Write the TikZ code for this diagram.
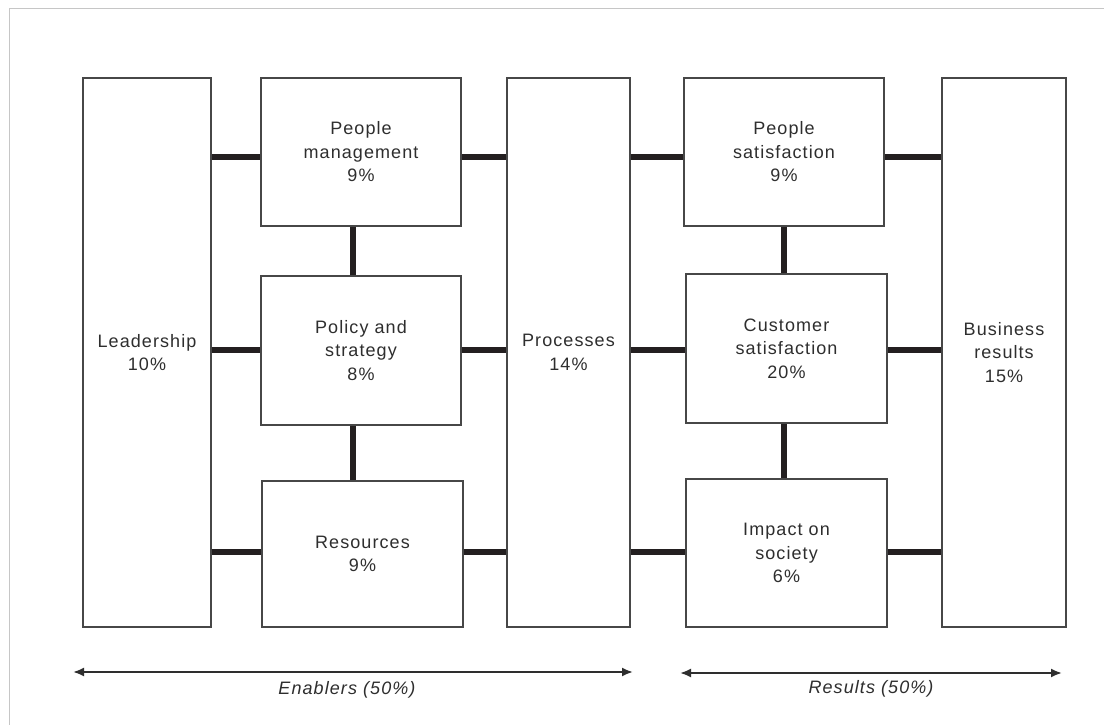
\documentclass[tikz,border=0pt]{standalone}
\usepackage{fontspec}
\setmainfont{Liberation Sans}[LetterSpace=6]
\usetikzlibrary{arrows.meta}
\definecolor{barc}{HTML}{231F20}
\definecolor{edgec}{HTML}{474747}
\definecolor{txtc}{HTML}{2E2E2E}
\definecolor{framec}{HTML}{C6C6C6}
\begin{document}
\begin{tikzpicture}[x=1pt,y=-1pt,
  box/.style={draw=edgec, line width=1.6pt, fill=white, inner sep=0pt,
    align=center, text=txtc, font=\fontsize{18}{23.5}\selectfont},
  bar/.style={draw=barc, line width=6pt},
  span/.style={draw=txtc, line width=2pt, {Latex[length=11pt,width=9pt]}-{Latex[length=11pt,width=9pt]}},
  spanlabel/.style={text=txtc, font=\fontsize{18}{22}\selectfont\itshape}]
  \useasboundingbox (0,0) rectangle (1104,725);
  \fill[white] (0,0) rectangle (1104,725);
  % thin page frame
  \draw[framec, line width=1pt] (1104,8.5) -- (9.5,8.5) -- (9.5,725);

  % enablers
  \node[box, minimum width=128pt, minimum height=549pt] (lead) at (147,352.5) {Leadership\\10\%};
  \node[box, minimum width=200pt, minimum height=148pt] (pm) at (361,152) {People\\management\\9\%};
  \node[box, minimum width=200pt, minimum height=149pt] (pol) at (361,350.5) {Policy and\\strategy\\8\%};
  \node[box, minimum width=201pt, minimum height=146pt] (res) at (362.5,554) {Resources\\9\%};
  \node[box, minimum width=123pt, minimum height=549pt] (proc) at (568.5,352.5) {Processes\\14\%};
  % results
  \node[box, minimum width=200pt, minimum height=148pt] (ps) at (784,152) {People\\satisfaction\\9\%};
  \node[box, minimum width=201pt, minimum height=149pt] (cs) at (786.5,348.5) {Customer\\satisfaction\\20\%};
  \node[box, minimum width=201pt, minimum height=148pt] (imp) at (786.5,553) {Impact on\\society\\6\%};
  \node[box, minimum width=124pt, minimum height=549pt] (bus) at (1004,352.5) {Business\\results\\15\%};

  % rows and columns of the links
  \coordinate (rowA) at (0,156.5);
  \coordinate (rowB) at (0,349.5);
  \coordinate (rowC) at (0,552);
  \coordinate (colL) at (352.5,0);
  \coordinate (colR) at (783.5,0);

  \draw[bar] (lead.east |- rowA) -- (pm.west |- rowA);
  \draw[bar] (pm.east |- rowA) -- (proc.west |- rowA);
  \draw[bar] (lead.east |- rowB) -- (pol.west |- rowB);
  \draw[bar] (pol.east |- rowB) -- (proc.west |- rowB);
  \draw[bar] (lead.east |- rowC) -- (res.west |- rowC);
  \draw[bar] (res.east |- rowC) -- (proc.west |- rowC);
  \draw[bar] (proc.east |- rowA) -- (ps.west |- rowA);
  \draw[bar] (ps.east |- rowA) -- (bus.west |- rowA);
  \draw[bar] (proc.east |- rowB) -- (cs.west |- rowB);
  \draw[bar] (cs.east |- rowB) -- (bus.west |- rowB);
  \draw[bar] (proc.east |- rowC) -- (imp.west |- rowC);
  \draw[bar] (imp.east |- rowC) -- (bus.west |- rowC);
  \draw[bar] (pm.south -| colL) -- (pol.north -| colL);
  \draw[bar] (pol.south -| colL) -- (res.north -| colL);
  \draw[bar] (ps.south -| colR) -- (cs.north -| colR);
  \draw[bar] (cs.south -| colR) -- (imp.north -| colR);

  % spans along the bottom
  \coordinate (e1) at (73,672);
  \coordinate (e2) at (633,672);
  \coordinate (r1) at (680,673);
  \coordinate (r2) at (1062,673);
  \draw[span] (e1) -- (e2);
  \draw[span] (r1) -- (r2);
  \node[spanlabel] (enl) at (347,690) {Enablers (50\%)};
  \node[spanlabel] (resl) at (871,689) {Results (50\%)};
\end{tikzpicture}
\end{document}
